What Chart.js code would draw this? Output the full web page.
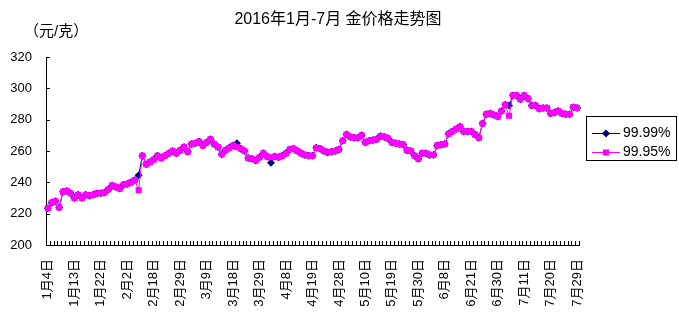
<!DOCTYPE html>
<html>
<head>
<meta charset="utf-8">
<script src="https://cdn.jsdelivr.net/npm/chart.js@4/dist/chart.umd.min.js"></script>
<style>
  html, body { margin: 0; padding: 0; background: #fff; }
  #wrap { width: 679px; height: 330px; position: relative; }
</style>
</head>
<body>
<div id="wrap"><canvas id="goldChart"></canvas></div>
<script>
const chartTitle = "2016年1月-7月 金价格走势图";
const unitText = "（元/克）";

// trading days per month, 2016
const months = [1, 2, 3, 4, 5, 6, 7];
const tradingDays = [
  [4,5,6,7,8,11,12,13,14,15,18,19,20,21,22,25,26,27,28,29],
  [1,2,3,4,5,15,16,17,18,19,22,23,24,25,26,29],
  [1,2,3,4,7,8,9,10,11,14,15,16,17,18,21,22,23,24,25,28,29,30,31],
  [1,5,6,7,8,11,12,13,14,15,18,19,20,21,22,25,26,27,28,29],
  [3,4,5,6,9,10,11,12,13,16,17,18,19,20,23,24,25,26,27,30,31],
  [1,2,3,6,7,8,13,14,15,16,17,20,21,22,23,24,27,28,29,30],
  [1,4,5,6,7,8,11,12,13,14,15,18,19,20,21,22,25,26,27,28,29]
];
const categories = [];
months.forEach((m, k) => tradingDays[k].forEach(d => categories.push(m + "月" + d + "日")));

const seriesNames = ["99.99%", "99.95%"];

const price9999 = [
  223.5,227,228,224,234,234.5,233,230,232,230,
  232,231.5,232,233,233,233.5,235.5,238,237,236,
  238.5,239,240,241.5,244.5,257,251.5,253,254.5,257,
  255.5,257,258.5,260,258.5,260.5,262.5,259.5,264.5,265,
  266,263.5,265.5,267.5,264.5,262.5,258,260.5,262,263.5,
  265,261.5,260,255.5,255,254,256,258.5,256.5,252.5,
  256.5,256,257,258.5,261,261.5,260,258.5,257.5,257,
  257,262,261.5,260,259,259.5,260,261,266.5,270.5,
  269,268.5,268.5,270,265.5,266.5,267,267.5,269.5,269,
  268,265.5,265,264.5,264,260.5,260,257,255,258.5,
  258.5,257.5,257.5,263.5,264,264.5,271,272.5,274,275.5,
  272.5,272.5,272.5,270.5,268.5,277.5,283.5,284,283,282,
  285.5,289.5,289,295.5,295.5,293,295.5,293.5,289,289,
  287,287.5,287.5,284,284.5,285.5,284,283.5,283.5,288,
  287.5
];

const price9995 = [
  223.5,227,228,224,234,234.5,233,230,232,230,
  232,231.5,232,233,233,233.5,235.5,238,237,236,
  238.5,239,240,241.5,235,257,251.5,253,254.5,257,
  255.5,257,258.5,260,258.5,260.5,262.5,259.5,264.5,265,
  266,263.5,265.5,267.5,264.5,262.5,258,260.5,262,263.5,
  262.5,261.5,260,255.5,255,254,256,258.5,256.5,256,
  256.5,256,257,258.5,261,261.5,260,258.5,257.5,257,
  257,262,261.5,260,259,259.5,260,261,266.5,270.5,
  269,268.5,268.5,270,265.5,266.5,267,267.5,269.5,269,
  268,265.5,265,264.5,264,260.5,260,257,255,258.5,
  258.5,257.5,257.5,263.5,264,264.5,271,272.5,274,275.5,
  272.5,272.5,272.5,270.5,268.5,277.5,283.5,284,283,282,
  285.5,289.5,282.5,295.5,295.5,293,295.5,293.5,289,289,
  287,287.5,287.5,284,284.5,285.5,284,283.5,283.5,288,
  287.5
];

const yTicks = [200, 220, 240, 260, 280, 300, 320];

Chart.defaults.font.family = '"Liberation Sans", "Noto Sans CJK SC", sans-serif';
Chart.defaults.font.size = 13;
Chart.defaults.color = "#000";

function drawMarker(ctx, style, r, x, y, color) {
  ctx.fillStyle = color;
  ctx.beginPath();
  if (style === "rectRot") {
    ctx.moveTo(x, y - r); ctx.lineTo(x + r, y); ctx.lineTo(x, y + r); ctx.lineTo(x - r, y);
  } else {
    const s = r * Math.SQRT1_2;
    ctx.rect(x - s, y - s, s * 2, s * 2);
  }
  ctx.closePath();
  ctx.fill();
}

const decor = {
  id: "decor",
  afterDraw(chart) {
    const { ctx, chartArea: a, scales: { x, y } } = chart;
    ctx.save();
    ctx.strokeStyle = "#000";
    ctx.lineWidth = 1;
    ctx.beginPath();
    y.ticks.forEach(t => {
      const py = Math.round(y.getPixelForValue(t.value)) + 0.5;
      ctx.moveTo(a.left, py); ctx.lineTo(a.left + 4, py);
    });
    const step = x.getPixelForValue(1) - x.getPixelForValue(0);
    for (let i = 0; i <= categories.length; i++) {
      const px = Math.round(x.getPixelForValue(0) - step / 2 + i * step) + 0.5;
      ctx.moveTo(px, a.bottom); ctx.lineTo(px, a.bottom - 4);
    }
    ctx.stroke();

    ctx.fillStyle = "#000";
    ctx.textBaseline = "middle";
    ctx.font = '16px "Liberation Sans", "Noto Sans CJK SC", sans-serif';
    ctx.textAlign = "center";
    ctx.fillText(chartTitle, 338, 20);
    ctx.font = '15px "Liberation Sans", "Noto Sans CJK SC", sans-serif';
    ctx.textAlign = "left";
    ctx.fillText(unitText, 24, 32);

    // legend box
    ctx.strokeRect(586.5, 116.5, 90, 44);
    ctx.font = '14px "Liberation Sans", "Noto Sans CJK SC", sans-serif';
    chart.data.datasets.forEach((ds, k) => {
      const ly = k === 0 ? 133.5 : 152.5;
      ctx.strokeStyle = ds.borderColor;
      ctx.beginPath(); ctx.moveTo(592, ly); ctx.lineTo(620, ly); ctx.stroke();
      drawMarker(ctx, ds.pointStyle, ds.pointRadius, 606, ly, ds.pointBackgroundColor);
      ctx.fillStyle = "#000";
      ctx.fillText(ds.label, 623, ly);
    });
    ctx.restore();
  }
};

new Chart(document.getElementById("goldChart"), {
  type: "line",
  data: {
    labels: categories,
    datasets: [
      {
        label: seriesNames[0],
        data: price9999,
        borderColor: "#000080",
        borderWidth: 1,
        pointStyle: "rectRot",
        pointRadius: 4,
        pointBackgroundColor: "#000080",
        pointBorderWidth: 0,
        tension: 0,
        clip: false,
        order: 1
      },
      {
        label: seriesNames[1],
        data: price9995,
        borderColor: "#ff00ff",
        borderWidth: 1,
        pointStyle: "rect",
        pointRadius: 4.3,
        pointBackgroundColor: "#ff00ff",
        pointBorderWidth: 0,
        tension: 0,
        clip: false,
        order: 0
      }
    ]
  },
  options: {
    responsive: true,
    maintainAspectRatio: false,
    animation: false,
    events: [],
    layout: { padding: { top: 57, right: 100, left: 0, bottom: 0 } },
    plugins: { legend: { display: false }, tooltip: { enabled: false } },
    scales: {
      x: {
        offset: true,
        grid: { display: false, drawTicks: false, offset: true },
        border: { display: true, color: "#000", width: 1 },
        ticks: {
          autoSkip: false,
          minRotation: 90,
          maxRotation: 90,
          padding: 14,
          font: { size: 13 },
          callback: function (val, i) { return i % 7 === 0 ? this.getLabelForValue(val) : ""; }
        },
        afterFit: s => { s.height = 85; }
      },
      y: {
        min: 200,
        max: 320,
        afterBuildTicks: s => { s.ticks = yTicks.map(v => ({ value: v })); },
        grid: { display: false, drawTicks: false },
        border: { display: true, color: "#000", width: 1 },
        ticks: { padding: 14, font: { size: 13 } },
        afterFit: s => { s.width = 46; }
      }
    }
  },
  plugins: [decor]
});
</script>
</body>
</html>
